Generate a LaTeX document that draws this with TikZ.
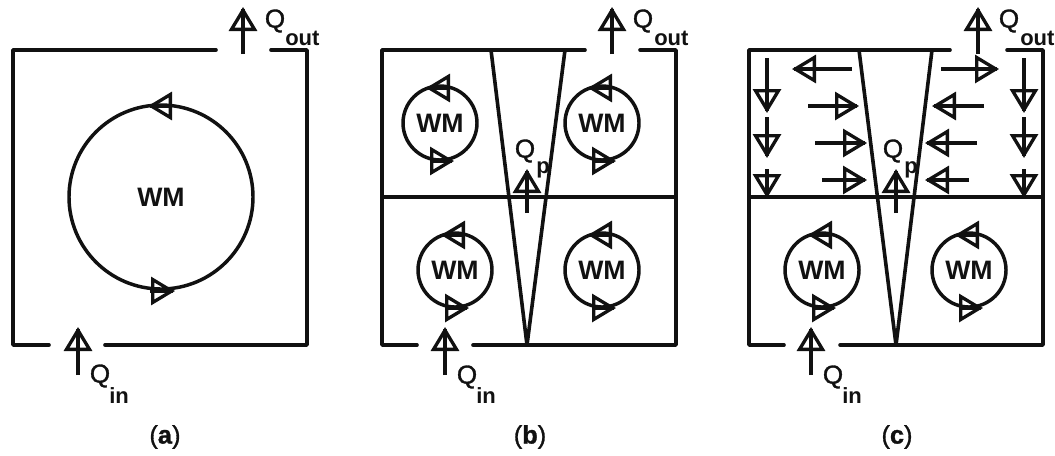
\documentclass[tikz,border=0pt]{standalone}
\usepackage{fontspec}
\setmainfont{Liberation Sans}
\newfontfamily\heavyfont[RawFeature={embolden=1.2}]{Liberation Sans}
\usetikzlibrary{arrows.meta,calc}
\definecolor{ink}{HTML}{111111}
\tikzset{
  wall/.style={draw=ink,line width=2.7pt,line cap=round,line join=round},
  shaft/.style={draw=ink,line width=2.6pt},
  headonly/.style={draw=ink,line width=2.5pt,-{Triangle[open,length=18pt,width=21pt,line width=2.5pt]}},
  ring/.style={draw=ink,line width=2.6pt,circle,inner sep=0pt,minimum size=#1},
  wmtext/.style={font=\fontsize{20}{20}\selectfont\bfseries,text=ink,inner sep=0pt},
  qtext/.style={font=\heavyfont\fontsize{19.5}{20}\selectfont,text=ink,inner sep=0pt,anchor=center},
  subtext/.style={font=\fontsize{16.5}{17}\selectfont\bfseries,text=ink,inner sep=0pt,anchor=west},
  captext/.style={font=\heavyfont\fontsize{19}{20}\selectfont,text=ink,inner sep=0pt}
}
% flow arrow: #1 tail, #2 apex
\newcommand{\flowarrow}[2]{%
  \draw[shaft] (#1) -- ($(#2)!10pt!(#1)$);
  \draw[headonly] ($(#2)!1.2pt!(#1)$) -- (#2);}
\newcommand{\wmring}[4]{%
  \node[ring=#4*0.75pt,label={[wmtext]center:WM}] (#1) at (#2,#3) {};}
\begin{document}
\begin{tikzpicture}[x=0.75pt,y=-0.75pt]
\useasboundingbox (0,0) rectangle (1055,455);
% ---------- panel a
\draw[wall] (216,50) -- (13,50) -- (13,345) -- (49,345);
\draw[wall] (271,50) -- (307,50) -- (307,345) -- (105,345);
\wmring{ra}{161}{197}{184}
\coordinate (aoT) at (243,54); \coordinate (aoH) at (243,7);
\flowarrow{aoT}{aoH}
\coordinate (aiT) at (78,375); \coordinate (aiH) at (78,327);
\flowarrow{aiT}{aiH}
\coordinate (a1T) at (172,106); \coordinate (a1H) at (148,106);
\flowarrow{a1T}{a1H}
\coordinate (a2T) at (150,291); \coordinate (a2H) at (175,291);
\flowarrow{a2T}{a2H}
\node[qtext] (aQo) at (275,21) {Q};
\node[subtext] (aSo) at (285,38) {out};
\node[qtext] (aQi) at (100,376) {Q};
\node[subtext] (aSi) at (109,396) {in};
\node[captext] (capa) at (165,437) {(\textbf{a})};
% ---------- panel b
\draw[wall] (585,50) -- (382,50) -- (382,345) -- (417,345);
\draw[wall] (640,50) -- (676,50) -- (676,345) -- (473,345);
\draw[wall] (382,197) -- (676,197);
\draw[wall] (491,50) -- (527,345) -- (565,50);
\wmring{rb1}{440}{123}{74}
\wmring{rb2}{602}{123}{74}
\wmring{rb3}{455}{270}{74}
\wmring{rb4}{602}{270}{74}
\foreach \n/\x/\y in {b1/440/123,b2/602/123,b3/455/270,b4/602/270,c3/822/270,c4/969/270}{
  \coordinate (\n tT) at ({\x+8},{\y-35});
  \coordinate (\n tH) at ({\x-14},{\y-35});
  \flowarrow{\n tT}{\n tH}
  \coordinate (\n bT) at ({\x-8},{\y+38});
  \coordinate (\n bH) at ({\x+14},{\y+38});
  \flowarrow{\n bT}{\n bH}
}
\coordinate (boT) at (612,54); \coordinate (boH) at (612,7);
\flowarrow{boT}{boH}
\coordinate (biT) at (445,375); \coordinate (biH) at (445,327);
\flowarrow{biT}{biH}
\coordinate (bpT) at (527,213); \coordinate (bpH) at (527,169);
\flowarrow{bpT}{bpH}
\node[qtext] (bQo) at (643,21) {Q};
\node[subtext] (bSo) at (654,38) {out};
\node[qtext] (bQi) at (467,377) {Q};
\node[subtext] (bSi) at (476,396) {in};
\node[qtext] (bQp) at (525,151) {Q};
\node[subtext] (bSp) at (536,170) {p};
\node[captext] (capb) at (530,437) {(\textbf{b})};
% ---------- panel c
\draw[wall] (950,50) -- (749,50) -- (749,345) -- (784,345);
\draw[wall] (1007,50) -- (1043,50) -- (1043,345) -- (840,345);
\draw[wall] (749,197) -- (1043,197);
\draw[wall] (859,50) -- (896,345) -- (932,50);
\wmring{rc3}{822}{270}{74}
\wmring{rc4}{969}{270}{74}
\coordinate (coT) at (978,54); \coordinate (coH) at (978,7);
\flowarrow{coT}{coH}
\coordinate (ciT) at (811,375); \coordinate (ciH) at (811,327);
\flowarrow{ciT}{ciH}
\coordinate (cpT) at (896,213); \coordinate (cpH) at (896,169);
\flowarrow{cpT}{cpH}
\foreach \k/\xa/\ya/\xb/\yb in {
  d1/767/58/767/113, d2/767/117/767/158, d3/767/169/767/198,
  e1/1024/58/1024/113, e2/1024/117/1024/158, e3/1024/169/1024/198,
  f1/852/69/792/69, f2/808/106/859/106, f3/815/143/867/143, f4/822/180/867/180,
  g1/941/69/999/69, g2/984/106/932/106, g3/977/143/925/143, g4/969/180/925/180}{
  \coordinate (\k T) at (\xa,\ya);
  \coordinate (\k H) at (\xb,\yb);
  \flowarrow{\k T}{\k H}
}
\node[qtext] (cQo) at (1009,21) {Q};
\node[subtext] (cSo) at (1020,38) {out};
\node[qtext] (cQi) at (833,377) {Q};
\node[subtext] (cSi) at (842,396) {in};
\node[qtext] (cQp) at (893,151) {Q};
\node[subtext] (cSp) at (904,170) {p};
\node[captext] (capc) at (897,437) {(\textbf{c})};
\end{tikzpicture}
\end{document}
